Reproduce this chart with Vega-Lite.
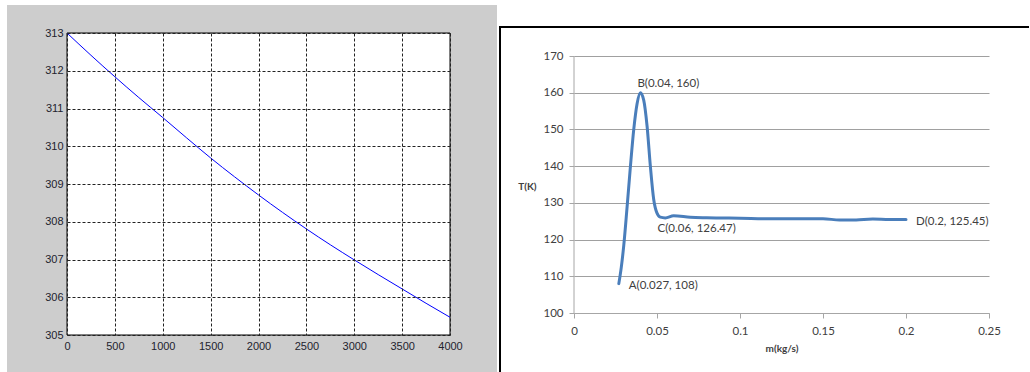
{
  "$schema": "https://vega.github.io/schema/vega-lite/v6.json",
  "background": "white",
  "padding": {"left": 0, "top": 5, "right": 0, "bottom": 0},
  "bounds": "flush",
  "spacing": 124,
  "config": {"view": {"stroke": null}},
  "datasets": {
    "cooling": [
      {"t": 0, "T": 313.0}, {"t": 250, "T": 312.41}, {"t": 500, "T": 311.84}, {"t": 750, "T": 311.29},
      {"t": 1000, "T": 310.76}, {"t": 1250, "T": 310.22}, {"t": 1500, "T": 309.69}, {"t": 1750, "T": 309.19},
      {"t": 2000, "T": 308.71}, {"t": 2250, "T": 308.25}, {"t": 2500, "T": 307.81}, {"t": 2750, "T": 307.39},
      {"t": 3000, "T": 306.99}, {"t": 3250, "T": 306.6}, {"t": 3500, "T": 306.22}, {"t": 3750, "T": 305.84},
      {"t": 4000, "T": 305.47}
    ],
    "mass": [
      {"m": 0.027, "T": 108}, {"m": 0.0285, "T": 112.5}, {"m": 0.030, "T": 118.5}, {"m": 0.032, "T": 129},
      {"m": 0.034, "T": 140}, {"m": 0.036, "T": 150}, {"m": 0.038, "T": 157}, {"m": 0.040, "T": 160},
      {"m": 0.042, "T": 158}, {"m": 0.044, "T": 151}, {"m": 0.046, "T": 140}, {"m": 0.048, "T": 131},
      {"m": 0.050, "T": 127.2}, {"m": 0.052, "T": 126.1}, {"m": 0.055, "T": 125.9}, {"m": 0.060, "T": 126.47},
      {"m": 0.070, "T": 126.1}, {"m": 0.080, "T": 125.95}, {"m": 0.100, "T": 125.8}, {"m": 0.120, "T": 125.65},
      {"m": 0.140, "T": 125.65}, {"m": 0.150, "T": 125.7}, {"m": 0.160, "T": 125.3}, {"m": 0.170, "T": 125.35},
      {"m": 0.180, "T": 125.6}, {"m": 0.190, "T": 125.45}, {"m": 0.200, "T": 125.45}
    ],
    "labels": [
      {"name": "A", "m": 0.027, "T": 108, "text": "A(0.027, 108)"},
      {"name": "B", "m": 0.04, "T": 160, "text": "B(0.04, 160)"},
      {"name": "C", "m": 0.06, "T": 126.47, "text": "C(0.06, 126.47)"},
      {"name": "D", "m": 0.2, "T": 125.45, "text": "D(0.2, 125.45)"}
    ]
  },
  "hconcat": [
    {
      "width": 383,
      "height": 302,
      "layer": [
        {
          "data": {"values": [{}]},
          "mark": {"type": "rect", "fill": "#cdcdcd", "strokeWidth": 0},
          "encoding": {
            "x": {"datum": -626.6, "type": "quantitative", "title": null, "scale": {"domain": [0, 4000], "nice": false, "zero": false}},
            "x2": {"datum": 4490.9},
            "y": {"datum": 313.7417, "type": "quantitative", "title": null, "scale": {"domain": [305, 313], "nice": false, "zero": false}},
            "y2": {"datum": 304.0199}
          }
        },
        {
          "data": {"values": [{}]},
          "mark": {"type": "rect", "fill": "white", "stroke": "black", "strokeWidth": 1},
          "encoding": {
            "x": {"datum": 0, "type": "quantitative", "title": null, "scale": {"domain": [0, 4000], "nice": false, "zero": false}},
            "x2": {"datum": 4000},
            "y": {"datum": 313, "type": "quantitative", "title": null, "scale": {"domain": [305, 313], "nice": false, "zero": false}},
            "y2": {"datum": 305}
          }
        },
        {
          "data": {"name": "cooling"},
          "mark": {"type": "line", "color": "#0000ff", "strokeWidth": 1, "interpolate": "monotone"},
          "encoding": {
            "x": {
              "field": "t", "type": "quantitative", "title": null,
              "scale": {"domain": [0, 4000], "nice": false, "zero": false},
              "axis": {
                "values": [0, 500, 1000, 1500, 2000, 2500, 3000, 3500, 4000], "tickCount": 20, "format": "d",
                "zindex": 1, "domain": false, "ticks": false, "labelPadding": 5,
                "labelFlush": false, "labelOverlap": false,
                "labelFont": "Liberation Sans", "labelFontSize": 11, "labelColor": "#23232e",
                "grid": true, "gridColor": "#222", "gridDash": [3, 2], "gridWidth": 1, "gridOpacity": 1
              }
            },
            "y": {
              "field": "T", "type": "quantitative", "title": null,
              "scale": {"domain": [305, 313], "nice": false, "zero": false},
              "axis": {
                "values": [305, 306, 307, 308, 309, 310, 311, 312, 313], "tickCount": 20, "format": "d",
                "zindex": 1, "domain": false, "ticks": false, "labelPadding": 4, "minExtent": 67,
                "labelFlush": false, "labelOverlap": false,
                "labelFont": "Liberation Sans", "labelFontSize": 11, "labelColor": "#23232e",
                "grid": true, "gridColor": "#222", "gridDash": [3, 2], "gridWidth": 1, "gridOpacity": 1
              }
            }
          }
        }
      ]
    },
    {
      "width": 415,
      "height": 280,
      "layer": [
        {
          "data": {"values": [{}]},
          "mark": {"type": "rule", "color": "black", "strokeWidth": 2, "strokeCap": "square"},
          "encoding": {
            "x": {"datum": -0.0445783, "type": "quantitative", "title": null, "scale": {"domain": [0, 0.25], "nice": false, "zero": false}},
            "y": {"datum": 177.899, "type": "quantitative", "title": null, "scale": {"domain": [100, 176.2646], "nice": false, "zero": false}},
            "y2": {"datum": 84.202}
          }
        },
        {
          "data": {"values": [{}]},
          "mark": {"type": "rule", "color": "black", "strokeWidth": 2, "strokeCap": "square"},
          "encoding": {
            "x": {"datum": -0.0445783, "type": "quantitative", "title": null, "scale": {"domain": [0, 0.25], "nice": false, "zero": false}},
            "x2": {"datum": 0.273494},
            "y": {"datum": 177.899, "type": "quantitative", "title": null, "scale": {"domain": [100, 176.2646], "nice": false, "zero": false}}
          }
        },
        {
          "data": {"values": [{}]},
          "mark": {"type": "rule", "color": "#a6a6a6", "strokeWidth": 1},
          "encoding": {
            "x": {"datum": 0, "type": "quantitative", "title": null, "scale": {"domain": [0, 0.25], "nice": false, "zero": false}},
            "y": {"datum": 100, "type": "quantitative", "title": null, "scale": {"domain": [100, 176.2646], "nice": false, "zero": false}},
            "y2": {"datum": 170}
          }
        },
        {
          "data": {"name": "mass"},
          "mark": {"type": "line", "color": "#4a7ebb", "strokeWidth": 3, "interpolate": "monotone", "strokeCap": "round"},
          "encoding": {
            "x": {
              "field": "m", "type": "quantitative", "title": "m(kg/s)",
              "scale": {"domain": [0, 0.25], "nice": false, "zero": false},
              "axis": {
                "values": [0, 0.05, 0.1, 0.15, 0.2, 0.25], "tickCount": 20, "format": "~g",
                "domain": true, "domainColor": "#a6a6a6", "ticks": true, "tickColor": "#a6a6a6", "tickSize": 5,
                "labelPadding": 7, "labelFlush": false, "labelOverlap": false,
                "labelFont": "Lato", "labelFontSize": 11.5, "labelColor": "#404040",
                "grid": false,
                "titleFont": "Lato", "titleFontSize": 10, "titleFontWeight": "bold", "titleColor": "#404040", "titlePadding": 7
              }
            },
            "y": {
              "field": "T", "type": "quantitative", "title": "T(K)",
              "scale": {"domain": [100, 176.2646], "nice": false, "zero": false},
              "axis": {
                "values": [100, 110, 120, 130, 140, 150, 160, 170], "tickCount": 20, "format": "d",
                "domain": false, "ticks": true, "tickColor": "#a6a6a6", "tickSize": 5,
                "labelPadding": 6, "labelFlush": false, "labelOverlap": false,
                "labelFont": "Lato", "labelFontSize": 11.5, "labelColor": "#404040",
                "grid": true, "gridColor": "#a0a0a0", "gridWidth": 1, "gridOpacity": 1,
                "titleFont": "Lato", "titleFontSize": 10, "titleFontWeight": "bold", "titleColor": "#404040",
                "titleAngle": 0, "titleAlign": "right", "titleBaseline": "middle", "titleX": -38, "titleY": 153
              }
            }
          }
        },
        {
          "data": {"name": "labels"},
          "transform": [{"filter": "datum.name === 'A' || datum.name === 'D'"}],
          "mark": {"type": "text", "align": "left", "baseline": "middle", "dx": 10, "dy": 2, "font": "Lato", "fontSize": 11.5, "color": "#404040"},
          "encoding": {
            "x": {"field": "m", "type": "quantitative"},
            "y": {"field": "T", "type": "quantitative"},
            "text": {"field": "text"}
          }
        },
        {
          "data": {"name": "labels"},
          "transform": [{"filter": "datum.name === 'B'"}],
          "mark": {"type": "text", "align": "left", "baseline": "middle", "dx": -3, "dy": -9, "font": "Lato", "fontSize": 11.5, "color": "#404040"},
          "encoding": {
            "x": {"field": "m", "type": "quantitative"},
            "y": {"field": "T", "type": "quantitative"},
            "text": {"field": "text"}
          }
        },
        {
          "data": {"name": "labels"},
          "transform": [{"filter": "datum.name === 'C'"}],
          "mark": {"type": "text", "align": "left", "baseline": "middle", "dx": -16, "dy": 13, "font": "Lato", "fontSize": 11.5, "color": "#404040"},
          "encoding": {
            "x": {"field": "m", "type": "quantitative"},
            "y": {"field": "T", "type": "quantitative"},
            "text": {"field": "text"}
          }
        }
      ]
    }
  ]
}
